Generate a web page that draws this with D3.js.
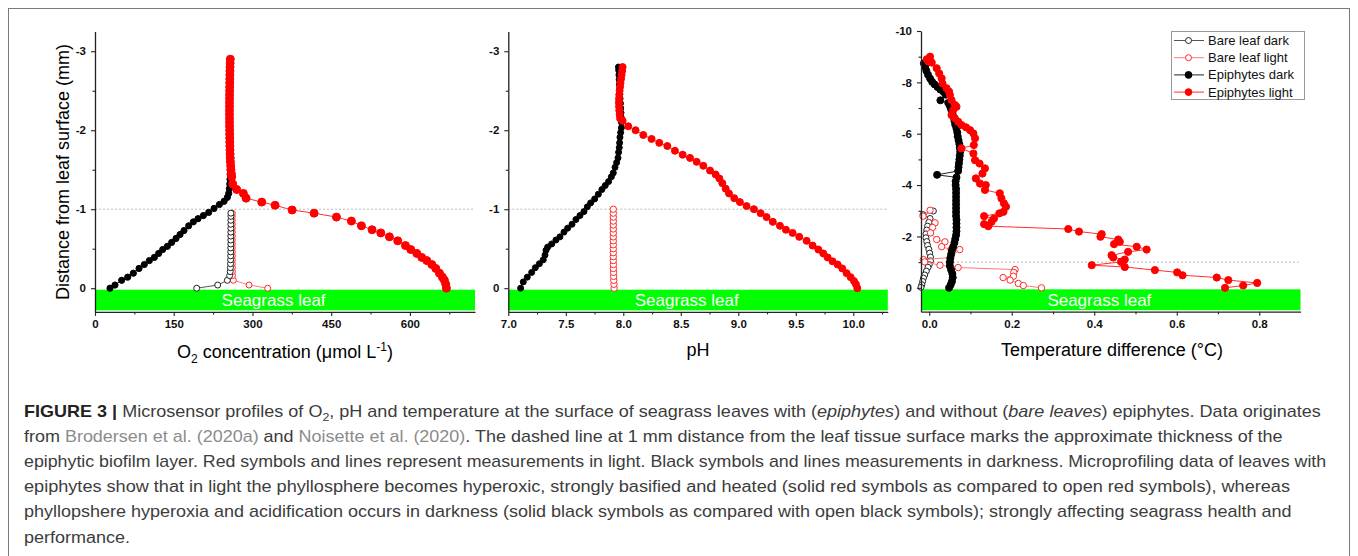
<!DOCTYPE html>
<html>
<head>
<meta charset="utf-8">
<script src="https://cdn.jsdelivr.net/npm/d3@7"></script>
<style>
  body { margin: 0; background: #fff; }
  svg text { font-family: "Liberation Sans", Arial, sans-serif; }
</style>
</head>
<body>
<svg width="1358" height="556"></svg>
<script>
// ---- data: [value, distance from leaf surface (mm)] ----
// Panel 1: O2 concentration (µmol L-1)
const o2BareDark = [[193.8,0],[233.8,-0.04],[252.2,-0.10],[256.5,-0.16],[257.6,-0.21],[258.0,-0.26],[258.2,-0.31],[258.4,-0.36],[258.5,-0.41],[258.6,-0.46],[258.6,-0.51],[258.7,-0.56],[258.7,-0.61],[258.7,-0.66],[258.8,-0.71],[258.8,-0.76],[258.8,-0.81],[258.8,-0.86],[258.9,-0.91],[258.9,-0.95]];
const o2BareLight = [[329.0,0],[293.5,-0.04],[263.6,-0.10],[262.0,-0.16],[261.8,-0.21],[261.7,-0.26],[261.7,-0.31],[261.6,-0.36],[261.6,-0.41],[261.6,-0.46],[261.6,-0.51],[261.6,-0.56],[261.6,-0.61],[261.6,-0.66],[261.6,-0.71],[261.6,-0.76],[261.6,-0.81],[261.6,-0.86],[261.6,-0.91],[261.6,-0.95]];
const o2EpiDark = [[28.6,0],[38.1,-0.04],[50.8,-0.10],[62.3,-0.14],[73.1,-0.19],[83.9,-0.25],[94.0,-0.30],[103.6,-0.35],[113.1,-0.39],[121.3,-0.44],[129.0,-0.49],[137.9,-0.53],[146.1,-0.58],[154.4,-0.63],[162.0,-0.68],[169.6,-0.73],[178.5,-0.79],[187.4,-0.84],[196.3,-0.88],[206.5,-0.92],[216.6,-0.96],[226.8,-1.01],[237.0,-1.06],[245.9,-1.10],[252.2,-1.15],[254.8,-1.20],[256.0,-1.26],[256.8,-1.32],[257.2,-1.38],[257.5,-1.44],[257.5,-1.50]];
const o2EpiLight = [[257.8,-2.90],[257.5,-2.85],[257.3,-2.80],[257.1,-2.75],[257.0,-2.70],[256.8,-2.65],[256.7,-2.60],[256.6,-2.55],[256.5,-2.50],[256.4,-2.45],[256.4,-2.40],[256.3,-2.35],[256.3,-2.30],[256.2,-2.25],[256.2,-2.20],[256.3,-2.15],[256.3,-2.10],[256.4,-2.05],[256.5,-2.00],[256.6,-1.95],[256.7,-1.90],[256.8,-1.85],[257.0,-1.80],[257.2,-1.75],[257.4,-1.70],[257.7,-1.65],[258.0,-1.60],[258.5,-1.55],[259.0,-1.50],[259.8,-1.45],[260.5,-1.41],[262.4,-1.32],[270.0,-1.25],[282.7,-1.20],[287.8,-1.14],[317.7,-1.09],[343.1,-1.05],[375.5,-0.99],[417.4,-0.95],[460.0,-0.90],[488.5,-0.85],[507.6,-0.79],[527.9,-0.74],[544.5,-0.70],[561.0,-0.65],[576.8,-0.60],[591.5,-0.54],[601.6,-0.49],[613.0,-0.44],[622.6,-0.39],[632.1,-0.35],[641.7,-0.30],[649.3,-0.25],[656.3,-0.19],[661.9,-0.14],[665.7,-0.10],[668.3,-0.05],[669.6,0]];

// Panel 2: pH
const phBareLight = [[7.920,0],[7.919,-0.05],[7.917,-0.10],[7.916,-0.15],[7.915,-0.20],[7.914,-0.25],[7.914,-0.30],[7.913,-0.35],[7.913,-0.40],[7.913,-0.45],[7.913,-0.50],[7.913,-0.55],[7.913,-0.60],[7.913,-0.65],[7.913,-0.70],[7.913,-0.75],[7.913,-0.80],[7.913,-0.85],[7.913,-0.90],[7.913,-0.95],[7.913,-1.00]];
const phEpiDark = [[7.107,0],[7.130,-0.08],[7.165,-0.14],[7.203,-0.20],[7.235,-0.26],[7.270,-0.31],[7.304,-0.36],[7.319,-0.42],[7.328,-0.48],[7.342,-0.52],[7.377,-0.56],[7.414,-0.61],[7.449,-0.65],[7.484,-0.71],[7.516,-0.76],[7.554,-0.81],[7.588,-0.87],[7.623,-0.92],[7.658,-0.97],[7.687,-1.03],[7.716,-1.08],[7.751,-1.13],[7.783,-1.19],[7.814,-1.25],[7.843,-1.30],[7.872,-1.35],[7.896,-1.41],[7.913,-1.46],[7.928,-1.53],[7.942,-1.59],[7.954,-1.65],[7.959,-1.72],[7.965,-1.78],[7.968,-1.84],[7.971,-1.91],[7.977,-1.97],[7.983,-2.03],[7.984,-2.10],[7.982,-2.16],[7.980,-2.22],[7.977,-2.28],[7.975,-2.34],[7.972,-2.40],[7.970,-2.46],[7.968,-2.52],[7.966,-2.58],[7.964,-2.64],[7.962,-2.70],[7.960,-2.76],[7.958,-2.80]];
const phEpiLight = [[7.994,-2.80],[7.990,-2.75],[7.985,-2.70],[7.980,-2.65],[7.976,-2.60],[7.972,-2.55],[7.968,-2.50],[7.965,-2.45],[7.963,-2.40],[7.962,-2.35],[7.963,-2.30],[7.965,-2.25],[7.968,-2.20],[7.972,-2.15],[7.994,-2.12],[8.043,-2.05],[8.107,-2.00],[8.174,-1.94],[8.246,-1.89],[8.313,-1.84],[8.383,-1.80],[8.449,-1.74],[8.516,-1.69],[8.580,-1.65],[8.638,-1.60],[8.696,-1.55],[8.754,-1.49],[8.803,-1.44],[8.835,-1.39],[8.861,-1.33],[8.890,-1.26],[8.919,-1.20],[8.965,-1.14],[9.014,-1.09],[9.072,-1.04],[9.136,-1.00],[9.194,-0.95],[9.246,-0.90],[9.300,-0.84],[9.362,-0.79],[9.414,-0.74],[9.472,-0.70],[9.530,-0.65],[9.594,-0.60],[9.646,-0.54],[9.696,-0.49],[9.739,-0.44],[9.777,-0.39],[9.820,-0.34],[9.864,-0.30],[9.904,-0.25],[9.942,-0.19],[9.977,-0.14],[10.006,-0.09],[10.023,-0.05],[10.035,0]];

// Panel 3: temperature difference (°C)
const tempBareDark = [[0.010,-2.99],[-0.015,-2.85],[0.002,-2.70],[-0.001,-2.55],[-0.004,-2.40],[-0.006,-2.25],[-0.008,-2.10],[-0.008,-1.95],[-0.006,-1.80],[-0.004,-1.65],[-0.001,-1.50],[0.001,-1.35],[0.003,-1.20],[0.003,-1.05],[0.000,-0.90],[-0.003,-0.80],[-0.007,-0.65],[-0.011,-0.50],[-0.014,-0.38],[-0.016,-0.25],[-0.018,-0.12],[-0.020,-0.02]];
const tempBareLight = [[0.002,-3.02],[-0.015,-2.79],[0.014,-2.53],[0.008,-2.35],[0.003,-2.14],[0.018,-1.88],[0.038,-1.79],[0.030,-1.60],[0.053,-1.49],[0.074,-1.49],[0.052,-1.18],[-0.014,-1.10],[-0.011,-1.01],[0.026,-0.88],[0.070,-0.79],[0.208,-0.71],[0.205,-0.60],[0.204,-0.45],[0.179,-0.40],[0.196,-0.30],[0.216,-0.17],[0.228,-0.09],[0.272,0]];
const tempEpiDark = [[-0.013,-8.74],[-0.010,-8.60],[-0.007,-8.45],[-0.003,-8.30],[0.002,-8.15],[0.007,-8.02],[0.013,-7.92],[0.020,-7.82],[0.027,-7.72],[0.035,-7.62],[0.040,-7.52],[0.027,-7.30],[0.046,-7.20],[0.050,-7.08],[0.053,-6.95],[0.056,-6.80],[0.059,-6.65],[0.061,-6.50],[0.063,-6.35],[0.066,-6.20],[0.068,-6.05],[0.069,-5.90],[0.071,-5.75],[0.073,-5.60],[0.074,-5.45],[0.075,-5.30],[0.074,-5.15],[0.073,-5.00],[0.072,-4.85],[0.071,-4.70],[0.070,-4.55],[0.019,-4.40],[0.066,-4.30],[0.064,-4.15],[0.064,-4.00],[0.065,-3.85],[0.065,-3.70],[0.065,-3.55],[0.065,-3.40],[0.065,-3.25],[0.065,-3.10],[0.065,-2.95],[0.065,-2.80],[0.066,-2.65],[0.066,-2.50],[0.066,-2.35],[0.066,-2.20],[0.065,-2.05],[0.063,-1.90],[0.061,-1.75],[0.058,-1.60],[0.055,-1.45],[0.053,-1.30],[0.051,-1.15],[0.050,-1.00],[0.050,-0.85],[0.053,-0.70],[0.056,-0.55],[0.057,-0.40],[0.055,-0.25],[0.052,-0.12],[0.048,0]];
const tempEpiLight = [[-0.006,-8.90],[0.002,-9.00],[-0.002,-8.81],[0.006,-8.77],[0.018,-8.55],[0.024,-8.35],[0.030,-8.16],[0.032,-7.96],[0.042,-7.77],[0.048,-7.64],[0.050,-7.51],[0.054,-7.31],[0.062,-7.12],[0.066,-7.05],[0.058,-6.92],[0.054,-6.73],[0.062,-6.60],[0.070,-6.47],[0.078,-6.34],[0.089,-6.25],[0.099,-6.14],[0.107,-6.01],[0.111,-5.82],[0.108,-5.56],[0.078,-5.43],[0.107,-5.23],[0.111,-4.97],[0.122,-4.84],[0.135,-4.65],[0.129,-4.45],[0.113,-4.26],[0.123,-4.06],[0.137,-4.00],[0.135,-3.81],[0.171,-3.68],[0.175,-3.48],[0.181,-3.29],[0.186,-3.16],[0.180,-2.96],[0.170,-2.90],[0.133,-2.79],[0.157,-2.70],[0.151,-2.57],[0.133,-2.48],[0.143,-2.40],[0.337,-2.29],[0.363,-2.19],[0.418,-2.09],[0.415,-1.99],[0.458,-1.88],[0.462,-1.79],[0.448,-1.70],[0.503,-1.60],[0.527,-1.49],[0.482,-1.40],[0.442,-1.27],[0.446,-1.18],[0.474,-1.10],[0.465,-1.01],[0.394,-0.88],[0.474,-0.81],[0.547,-0.69],[0.601,-0.60],[0.614,-0.49],[0.697,-0.40],[0.725,-0.30],[0.795,-0.19],[0.761,-0.09],[0.717,0]];

// ---- ticks ----
const o2Ticks = [0,150,300,450,600], o2Minor = [75,225,375,525,675];
const phTicks = [7.0,7.5,8.0,8.5,9.0,9.5,10.0], phMinor = [7.25,7.75,8.25,8.75,9.25,9.75,10.25];
const tempTicks = [0,0.2,0.4,0.6,0.8], tempMinor = [0.1,0.3,0.5,0.7];
const mmTicks = [-3,-2,-1,0], mmMinor = [-2.5,-1.5,-0.5];
const mmTicksT = [-10,-8,-6,-4,-2,0], mmMinorT = [-9,-7,-5,-3,-1];
const legendNames = ["Bare leaf dark","Bare leaf light","Epiphytes dark","Epiphytes light"];

const styles = {
  bareDark:  {line:"#555",    fill:"#fff", stroke:"#222"},
  bareLight: {line:"#ff7a7a", fill:"#fff", stroke:"#ff2a2a"},
  epiDark:   {line:"#222",    fill:"#000", stroke:"#000"},
  epiLight:  {line:"#ff3030", fill:"#ff0000", stroke:"#ff0000"}
};

const svg = d3.select("svg");

// outer frame
svg.append("rect").attr("x",8.5).attr("y",8.5).attr("width",1341).attr("height",620)
  .attr("fill","none").attr("stroke","#7a7a7a").attr("stroke-width",1);

function drawPanel(c) {
  const x = d3.scaleLinear().domain(c.xDomain).range(c.xr);
  const y = d3.scaleLinear().domain(c.yDomain).range(c.yr);
  const g = svg.append("g");

  // seagrass leaf bar
  g.append("rect").attr("x", c.xr[0]).attr("y", y(0) + 1.5)
    .attr("width", c.xr[1] - c.xr[0]).attr("height", c.yr[1] - 1.5 - (y(0) + 1.5))
    .attr("fill", "#00ff00");
  g.append("text").attr("x", c.xr[0] + (c.xr[1] - c.xr[0]) * 0.47).attr("y", (y(0) + c.yr[1]) / 2 + 6)
    .attr("text-anchor","middle").attr("fill","#fff").attr("font-size","17px").text("Seagrass leaf");

  // biofilm line at 1 mm
  g.append("line").attr("x1", c.xr[0]).attr("x2", c.xr[1]).attr("y1", y(-1)).attr("y2", y(-1))
    .attr("stroke","#bbb").attr("stroke-width",1).attr("stroke-dasharray","2,2");

  // series
  const line = d3.line().x(d => x(d[0])).y(d => y(d[1]));
  c.series.forEach(s => {
    const st = styles[s.type];
    g.append("path").attr("d", line(s.data)).attr("fill","none")
      .attr("stroke", st.line).attr("stroke-width", 1);
    g.append("g").selectAll("circle").data(s.data).enter().append("circle")
      .attr("cx", d => x(d[0])).attr("cy", d => y(d[1])).attr("r", s.r)
      .attr("fill", st.fill).attr("stroke", st.stroke).attr("stroke-width", 1);
  });

  // axes
  g.append("g").attr("transform", `translate(0,${c.yr[1]})`)
    .call(d3.axisBottom(x).tickValues(c.xTicks).tickFormat(c.xFmt).tickSize(4).tickPadding(4).tickSizeOuter(0));
  g.append("g").attr("transform", `translate(0,${c.yr[1]})`)
    .call(d3.axisBottom(x).tickValues(c.xMinor).tickFormat("").tickSize(2.5).tickSizeOuter(0))
    .select(".domain").remove();
  g.append("g").attr("transform", `translate(${c.xr[0]},0)`)
    .call(d3.axisLeft(y).tickValues(c.yTicks).tickFormat(c.yFmt).tickSize(4).tickPadding(5).tickSizeOuter(0));
  g.append("g").attr("transform", `translate(${c.xr[0]},0)`)
    .call(d3.axisLeft(y).tickValues(c.yMinor).tickFormat("").tickSize(2.5).tickSizeOuter(0))
    .select(".domain").remove();
  g.selectAll(".domain").attr("stroke","#222").attr("stroke-width",1.3);
  g.selectAll(".tick line").attr("stroke","#222").attr("stroke-width",1.1);
  g.selectAll(".tick text").attr("font-family","Liberation Sans, Arial, sans-serif")
    .attr("font-size","11.5px").attr("font-weight","bold").attr("fill","#111");
  return {x, y, g};
}

// plain hyphen minus, as in the original figure
const mmFmt = v => String(v);
const dec1 = v => v.toFixed(1);

drawPanel({
  xr:[95,475], yr:[31.5,311.9], xDomain:[0,724], yDomain:[-3.25,0.3],
  xTicks:o2Ticks, xMinor:o2Minor, yTicks:mmTicks, yMinor:mmMinor,
  xFmt:v => String(v), yFmt:mmFmt,
  series:[
    {data:o2BareLight, type:"bareLight", r:3},
    {data:o2BareDark, type:"bareDark", r:3},
    {data:o2EpiDark, type:"epiDark", r:3.1},
    {data:o2EpiLight, type:"epiLight", r:4}
  ]
});
drawPanel({
  xr:[508.3,887.8], yr:[31.5,311.9], xDomain:[7,10.3], yDomain:[-3.25,0.3],
  xTicks:phTicks, xMinor:phMinor, yTicks:mmTicks, yMinor:mmMinor,
  xFmt:dec1, yFmt:mmFmt,
  series:[
    {data:phBareLight, type:"bareLight", r:3.2},
    {data:phEpiDark, type:"epiDark", r:3},
    {data:phEpiLight, type:"epiLight", r:3.5}
  ]
});
drawPanel({
  xr:[921,1300.5], yr:[31,311.7], xDomain:[-0.02,0.9], yDomain:[-10,0.93],
  xTicks:tempTicks, xMinor:tempMinor, yTicks:mmTicksT, yMinor:mmMinorT,
  xFmt:dec1, yFmt:mmFmt,
  series:[
    {data:tempBareDark, type:"bareDark", r:3},
    {data:tempBareLight, type:"bareLight", r:3.2},
    {data:tempEpiDark, type:"epiDark", r:3.5},
    {data:tempEpiLight, type:"epiLight", r:3.6}
  ]
});

// axis titles
svg.append("text").attr("transform","translate(69,172) rotate(-90)").attr("text-anchor","middle")
  .attr("font-size","18px").attr("fill","#000").text("Distance from leaf surface (mm)");

const t1 = svg.append("text").attr("x",285).attr("y",358).attr("text-anchor","middle")
  .attr("font-size","18px").attr("fill","#000");
t1.append("tspan").text("O");
t1.append("tspan").attr("dy",5).attr("font-size","12px").text("2");
t1.append("tspan").attr("dy",-5).text(" concentration (\u03bcmol L");
t1.append("tspan").attr("dy",-7).attr("font-size","12px").text("-1");
t1.append("tspan").attr("dy",7).text(")");

svg.append("text").attr("x",698).attr("y",356).attr("text-anchor","middle")
  .attr("font-size","18px").attr("fill","#000").text("pH");
svg.append("text").attr("x",1112).attr("y",356).attr("text-anchor","middle")
  .attr("font-size","18px").attr("fill","#000").text("Temperature difference (\u00b0C)");

// legend (panel 3)
const lg = svg.append("g").attr("transform","translate(1171,31)");
lg.append("rect").attr("x",0.5).attr("y",0.5).attr("width",133).attr("height",68)
  .attr("fill","#fff").attr("stroke","#999");
const legendTypes = ["bareDark","bareLight","epiDark","epiLight"];
legendTypes.forEach((tp, i) => {
  const st = styles[tp], yy = 9.5 + i * 17.2;
  lg.append("line").attr("x1",3).attr("x2",33).attr("y1",yy).attr("y2",yy)
    .attr("stroke", st.line).attr("stroke-width",1);
  lg.append("circle").attr("cx",17.5).attr("cy",yy).attr("r", tp.startsWith("epi") ? 3.4 : 3)
    .attr("fill", st.fill).attr("stroke", st.stroke);
  lg.append("text").attr("x",37).attr("y",yy + 4.5).attr("font-size","13px").attr("fill","#111")
    .text(legendNames[i]);
});

// caption
const capLines = [
  {right:1322, parts:[{t:"FIGURE 3 |",b:1},{t:" Microsensor profiles of O"},{t:"2",sub:1},{t:", pH and temperature at the surface of seagrass leaves with ("},{t:"epiphytes",i:1},{t:") and without ("},{t:"bare leaves",i:1},{t:") epiphytes. Data originates"}]},
  {right:1284, parts:[{t:"from "},{t:"Brodersen et al. (2020a)",link:1},{t:" and "},{t:"Noisette et al. (2020)",link:1},{t:". The dashed line at 1 mm distance from the leaf tissue surface marks the approximate thickness of the"}]},
  {right:1327, parts:[{t:"epiphytic biofilm layer. Red symbols and lines represent measurements in light. Black symbols and lines measurements in darkness. Microprofiling data of leaves with"}]},
  {right:1291, parts:[{t:"epiphytes show that in light the phyllosphere becomes hyperoxic, strongly basified and heated (solid red symbols as compared to open red symbols), whereas"}]},
  {right:1293, parts:[{t:"phyllopshere hyperoxia and acidification occurs in darkness (solid black symbols as compared with open black symbols); strongly affecting seagrass health and"}]},
  {right:null, parts:[{t:"performance."}]}
];
const scales = [];
capLines.forEach((ln, k) => {
  const by = 416.5 + k * 25.2;
  const t = svg.append("text").attr("x",0).attr("y",0).attr("font-size","16px").attr("fill","#3c3c3c");
  let afterSub = false;
  ln.parts.forEach(p => {
    const sp = t.append("tspan").text(p.t);
    if (p.b) sp.attr("font-weight","bold").attr("fill","#222");
    if (p.i) sp.attr("font-style","italic");
    if (p.link) sp.attr("fill","#8c8c8c");
    if (afterSub) { sp.attr("dy",-4); afterSub = false; }
    if (p.sub) { sp.attr("dy",4).attr("font-size","11px"); afterSub = true; }
  });
  let s = 1;
  if (ln.right) { s = (ln.right - 24) / t.node().getComputedTextLength(); scales.push(s); }
  else { s = d3.mean(scales); }
  t.attr("transform", `translate(24,${by}) scale(${s},1)`);
});
</script>
</body>
</html>
